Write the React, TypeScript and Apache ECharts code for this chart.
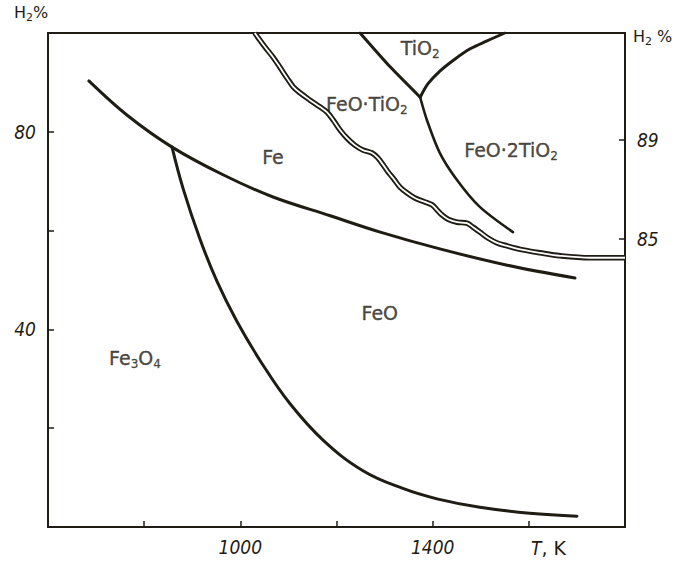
import React, { useEffect, useRef } from 'react';
import * as echarts from 'echarts';

const INK = '#1f1c14';
const LABEL_FONT = "'DejaVu Sans', sans-serif";
const TICK_FONT = "'DejaVu Sans Condensed', 'DejaVu Sans', sans-serif";

// axis extents / ticks
const tempRange = [600, 1800];
const tempStep = 200;
const tempLabels = [1000, 1400];
const h2Range = [0, 100];
const h2Step = 20;
const h2Labels = [40, 80];
const h2RightRange = [73.36, 93.32];
const h2RightTicks = [85, 89];

// boundaries [T (K), H2 %]
const feBoundary: [number, number][] = [
  [685, 90.3], [764, 83.4], [858, 76.9], [964, 71.3], [1068, 66.8],
  [1187, 63.0], [1291, 59.7], [1415, 56.3], [1555, 53.0], [1696, 50.4],
];
const magnetiteBoundary: [number, number][] = [
  [858, 76.9], [881, 68.5], [916, 58.3], [952, 49.6], [993, 41.6],
  [1047, 32.8], [1103, 25.0], [1172, 17.6], [1255, 11.4], [1338, 7.8],
  [1409, 5.7], [1498, 4.0], [1602, 2.8], [1700, 2.2],
];
const ilmeniteBoundary: [number, number][] = [
  [1030, 100.0], [1051, 97.2], [1068, 95.1], [1082, 93.1], [1097, 90.9],
  [1110, 89.1], [1124, 87.9], [1145, 86.4], [1166, 85.0], [1180, 84.0],
  [1193, 82.4], [1207, 80.4], [1222, 78.7], [1238, 77.3], [1255, 76.3],
  [1274, 75.7], [1286, 74.7], [1297, 73.3], [1307, 71.9], [1318, 70.6],
  [1332, 68.8], [1347, 67.6], [1363, 66.6], [1384, 65.8], [1399, 65.2],
  [1409, 64.2], [1419, 63.2], [1432, 62.3], [1451, 61.7], [1471, 61.5],
  [1484, 60.7], [1498, 59.7], [1515, 58.5], [1534, 57.5], [1555, 56.9],
  [1588, 56.1], [1623, 55.5], [1665, 54.9], [1727, 54.5], [1800, 54.5],
];
const tio2LeftBoundary: [number, number][] = [
  [1249, 100.0], [1311, 93.2], [1374, 87.0],
];
const tio2RightBoundary: [number, number][] = [
  [1374, 87.0], [1390, 89.7], [1415, 92.3], [1446, 94.7], [1478, 96.8],
  [1513, 98.4], [1550, 100.0],
];
const pseudobrookiteBoundary: [number, number][] = [
  [1374, 87.0], [1388, 82.4], [1415, 75.7], [1451, 70.2], [1498, 64.8], [1567, 59.7],
];

// phase-field names and their positions [T, H2 %]
const phaseNames = ['{b|TiO}{s|2}', '{b|FeO·TiO}{s|2}', '{b|Fe}', '{b|FeO·2TiO}{s|2}', '{b|FeO}', '{b|Fe}{s|3}{b|O}{s|4}'];
const phasePositions: [number, number][] = [
  [1374, 97.0], [1263, 85.6], [1068, 74.9], [1563, 76.3], [1290, 43.3], [781, 34.2],
];

const rich = {
  b: { fontFamily: LABEL_FONT, fontSize: 19, color: INK, textBorderColor: INK, textBorderWidth: 0.4 },
  s: { fontFamily: LABEL_FONT, fontSize: 12, color: INK, textBorderColor: INK, textBorderWidth: 0.3, padding: [12, 0, 0, 0] },
};
const titleRich = {
  b: { fontFamily: LABEL_FONT, fontSize: 16, fill: INK },
  s: { fontFamily: LABEL_FONT, fontSize: 11, fill: INK, padding: [10, 0, 0, 0] },
  i: { fontFamily: TICK_FONT, fontStyle: 'italic', fontSize: 19, fill: INK },
  r: { fontFamily: LABEL_FONT, fontSize: 19, fill: INK },
};

export default function App() {
  const ref = useRef<HTMLDivElement>(null);
  useEffect(() => {
    if (!ref.current) return;
    const chart = echarts.init(ref.current, null, { renderer: 'svg' });
    const lineSeries = (data: [number, number][], width: number, color = INK, smooth = 0.35, cap = 'round') => ({
      type: 'line',
      data,
      smooth,
      symbol: 'none',
      silent: true,
      lineStyle: { color, width, cap, join: 'round' },
    });
    chart.setOption({
      animation: false,
      backgroundColor: '#ffffff',
      grid: { left: 48, right: 57, top: 33, bottom: 35, show: true, borderColor: INK, borderWidth: 2, backgroundColor: 'transparent' },
      xAxis: {
        type: 'value',
        min: tempRange[0], max: tempRange[1], interval: tempStep,
        axisLine: { show: false },
        splitLine: { show: false },
        axisTick: { inside: true, length: 6, lineStyle: { color: INK, width: 1.5 } },
        axisLabel: {
          formatter: (v: number) => (tempLabels.includes(v) ? String(v) : ''),
          fontStyle: 'italic', fontFamily: TICK_FONT, fontSize: 19, color: INK, margin: 10,
        },
      },
      yAxis: [
        {
          type: 'value', position: 'left',
          min: h2Range[0], max: h2Range[1], interval: h2Step,
          axisLine: { show: false },
          splitLine: { show: false },
          axisTick: { inside: true, length: 6, lineStyle: { color: INK, width: 1.5 } },
          axisLabel: {
            formatter: (v: number) => (h2Labels.includes(v) ? String(v) : ''),
            fontStyle: 'italic', fontFamily: TICK_FONT, fontSize: 19, color: INK, margin: 12,
          },
        },
        {
          type: 'value', position: 'right',
          min: h2RightRange[0], max: h2RightRange[1],
          axisLine: { show: false },
          splitLine: { show: false },
          axisTick: { inside: true, length: 6, customValues: h2RightTicks, lineStyle: { color: INK, width: 1.5 } },
          axisLabel: {
            customValues: h2RightTicks,
            fontStyle: 'italic', fontFamily: TICK_FONT, fontSize: 19, color: INK, margin: 12,
          },
        },
      ],
      graphic: [
        { type: 'text', left: 14, top: 4, style: { text: '{b|H}{s|2}{b|%}', rich: titleRich } },
        { type: 'text', left: 633, top: 28, style: { text: '{b|H}{s|2}{b| %}', rich: titleRich } },
        { type: 'text', left: 531, top: 538, style: { text: '{i|T}{r|, K}', rich: titleRich } },
      ],
      series: [
        lineSeries(feBoundary, 3),
        lineSeries(magnetiteBoundary, 3, INK, 0.4),
        lineSeries(tio2LeftBoundary, 3, INK, 0.2),
        lineSeries(tio2RightBoundary, 3, INK, 0.3),
        lineSeries(pseudobrookiteBoundary, 2.6, INK, 0.3),
        lineSeries(ilmeniteBoundary, 5.5, INK, 0.35, 'butt'),
        lineSeries(ilmeniteBoundary, 1.8, '#ffffff', 0.35, 'butt'),
        {
          type: 'scatter',
          symbolSize: 0,
          silent: true,
          data: phasePositions.map((p, i) => ({
            value: p,
            label: { show: true, position: 'inside', formatter: phaseNames[i], rich },
          })),
        },
      ],
    });
    return () => chart.dispose();
  }, []);
  return <div ref={ref} style={{ position: 'fixed', left: 0, top: 0, width: 682, height: 562, background: '#fff' }} />;
}
